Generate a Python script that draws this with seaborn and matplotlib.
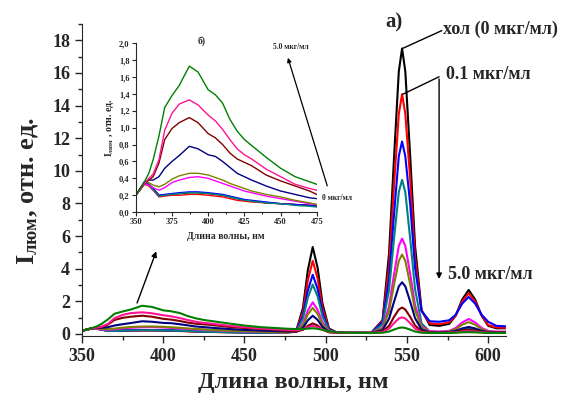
import numpy as np
import pandas as pd
import matplotlib
matplotlib.use("Agg")
import matplotlib.pyplot as plt
import seaborn as sns

# wavelength grid (nm): inset region + peak region
wavelength = [350, 353, 356, 359, 362, 366, 370, 375, 380, 387, 393, 400, 405, 410, 415,
              420, 425, 430, 440, 450, 460, 470, 475,
              482, 486, 489, 492, 495, 498, 502, 507, 515, 528, 535, 539, 542, 545, 547,
              549, 552, 555, 559, 564, 570, 576, 580, 584, 588, 592, 596, 600, 605, 611]

# intensities, from control (0 mkg/ml) up to 5.0 mkg/ml
s_black = [0.20, 0.27, 0.34, 0.33, 0.28, 0.20, 0.20, 0.21, 0.22, 0.23, 0.23, 0.22, 0.21, 0.20, 0.18,
           0.16, 0.14, 0.13, 0.11, 0.10, 0.09, 0.08, 0.07,
           0.24, 1.60, 3.91, 5.33, 4.07, 1.87, 0.34, 0.08, 0.07, 0.07, 0.85, 4.94, 10.7, 16.1, 17.5,
           16.1, 10.9, 5.40, 1.47, 0.55, 0.50, 0.62, 1.12, 2.11, 2.70, 2.11, 1.12, 0.50, 0.35, 0.35]
s_red = [0.20, 0.26, 0.33, 0.31, 0.26, 0.18, 0.19, 0.20, 0.20, 0.21, 0.21, 0.20, 0.19, 0.18, 0.16,
         0.14, 0.13, 0.12, 0.11, 0.10, 0.09, 0.08, 0.08,
         0.21, 1.36, 3.29, 4.48, 3.42, 1.58, 0.30, 0.08, 0.07, 0.07, 0.80, 4.16, 8.98, 13.5, 14.7,
         13.5, 9.50, 4.70, 1.42, 0.65, 0.60, 0.71, 1.13, 1.99, 2.50, 1.99, 1.13, 0.55, 0.40, 0.38]
s_blue = [0.20, 0.27, 0.34, 0.33, 0.28, 0.20, 0.21, 0.22, 0.23, 0.24, 0.24, 0.23, 0.22, 0.21, 0.19,
          0.17, 0.15, 0.14, 0.12, 0.10, 0.09, 0.08, 0.07,
          0.19, 1.11, 2.67, 3.63, 2.78, 1.29, 0.26, 0.08, 0.07, 0.07, 0.73, 3.37, 7.27, 10.9, 11.8,
          10.9, 7.95, 4.05, 1.41, 0.78, 0.75, 0.84, 1.18, 1.86, 2.27, 1.86, 1.18, 0.75, 0.50, 0.47]
s_teal = [0.20, 0.27, 0.34, 0.32, 0.27, 0.19, 0.20, 0.21, 0.22, 0.23, 0.23, 0.22, 0.21, 0.20, 0.18,
          0.16, 0.14, 0.13, 0.11, 0.10, 0.08, 0.07, 0.06,
          0.17, 0.94, 2.23, 3.03, 2.32, 1.08, 0.23, 0.08, 0.07, 0.07, 0.59, 2.70, 5.80, 8.70, 9.45,
          8.70, 5.85, 2.75, 0.65, 0.15, 0.12, 0.13, 0.17, 0.27, 0.32, 0.27, 0.17, 0.12, 0.10, 0.10]
s_magenta = [0.20, 0.27, 0.34, 0.32, 0.29, 0.26, 0.29, 0.35, 0.38, 0.41, 0.42, 0.40, 0.37, 0.34, 0.31,
             0.28, 0.25, 0.23, 0.19, 0.16, 0.13, 0.10, 0.09,
             0.14, 0.62, 1.44, 1.94, 1.49, 0.71, 0.17, 0.08, 0.07, 0.07, 0.39, 1.69, 3.61, 5.40, 5.85,
             5.40, 3.69, 1.77, 0.47, 0.17, 0.15, 0.19, 0.37, 0.71, 0.92, 0.71, 0.37, 0.19, 0.15, 0.15]
s_olive = [0.20, 0.28, 0.36, 0.35, 0.32, 0.30, 0.33, 0.39, 0.43, 0.46, 0.46, 0.44, 0.41, 0.38, 0.34,
           0.31, 0.28, 0.25, 0.21, 0.18, 0.14, 0.11, 0.09,
           0.13, 0.53, 1.20, 1.60, 1.23, 0.59, 0.16, 0.08, 0.07, 0.07, 0.34, 1.41, 2.99, 4.48, 4.87,
           4.48, 3.05, 1.46, 0.39, 0.13, 0.12, 0.15, 0.29, 0.57, 0.73, 0.57, 0.29, 0.15, 0.12, 0.12]
s_navy = [0.20, 0.28, 0.36, 0.38, 0.38, 0.42, 0.52, 0.60, 0.67, 0.78, 0.75, 0.68, 0.66, 0.60, 0.53,
          0.46, 0.42, 0.38, 0.31, 0.25, 0.21, 0.17, 0.16,
          0.14, 0.38, 0.84, 1.12, 0.87, 0.43, 0.13, 0.08, 0.07, 0.07, 0.24, 0.94, 1.96, 2.92, 3.17,
          2.92, 1.99, 0.97, 0.27, 0.10, 0.10, 0.12, 0.19, 0.34, 0.43, 0.34, 0.19, 0.12, 0.10, 0.10]
s_maroon = [0.20, 0.27, 0.34, 0.38, 0.42, 0.58, 0.86, 0.99, 1.06, 1.12, 1.06, 0.93, 0.88, 0.80, 0.70,
            0.63, 0.59, 0.55, 0.44, 0.37, 0.31, 0.25, 0.21,
            0.16, 0.25, 0.50, 0.65, 0.52, 0.27, 0.10, 0.08, 0.07, 0.07, 0.16, 0.50, 1.04, 1.50, 1.62,
            1.50, 1.05, 0.52, 0.16, 0.08, 0.08, 0.09, 0.13, 0.21, 0.26, 0.21, 0.13, 0.09, 0.08, 0.08]
s_pink = [0.20, 0.27, 0.34, 0.40, 0.45, 0.62, 0.97, 1.17, 1.28, 1.33, 1.27, 1.15, 1.08, 0.98, 0.86,
          0.75, 0.68, 0.63, 0.51, 0.42, 0.33, 0.28, 0.26,
          0.22, 0.30, 0.41, 0.50, 0.42, 0.27, 0.13, 0.08, 0.07, 0.07, 0.12, 0.33, 0.66, 0.95, 1.02,
          0.95, 0.66, 0.33, 0.12, 0.07, 0.07, 0.08, 0.10, 0.15, 0.17, 0.15, 0.10, 0.08, 0.07, 0.07]
s_green = [0.20, 0.27, 0.36, 0.46, 0.62, 0.90, 1.24, 1.38, 1.50, 1.73, 1.66, 1.45, 1.39, 1.29, 1.10,
           0.96, 0.86, 0.79, 0.65, 0.52, 0.42, 0.36, 0.33,
           0.30, 0.31, 0.33, 0.35, 0.32, 0.25, 0.17, 0.10, 0.07, 0.06, 0.08, 0.15, 0.27, 0.37, 0.40,
           0.37, 0.27, 0.15, 0.08, 0.06, 0.06, 0.06, 0.08, 0.10, 0.11, 0.10, 0.08, 0.06, 0.06, 0.06]

series = {"black": s_black, "red": s_red, "blue": s_blue, "teal": s_teal,
          "magenta": s_magenta, "olive": s_olive, "navy": s_navy,
          "maroon": s_maroon, "deeppink": s_pink, "green": s_green}
palette = {"black": "#000000", "red": "#ff0000", "blue": "#0000ff", "teal": "#008080",
           "magenta": "#ff00ff", "olive": "#808000", "navy": "#000080",
           "maroon": "#800000", "deeppink": "#ff1493", "green": "#008000"}

df = pd.concat([pd.DataFrame({"wl": wavelength, "I": v, "s": k}) for k, v in series.items()])

sns.set_style("ticks")
plt.rcParams["font.family"] = ["Liberation Serif", "DejaVu Serif"]
plt.rcParams["font.weight"] = "bold"
plt.rcParams["mathtext.fontset"] = "custom"
plt.rcParams["mathtext.rm"] = "Liberation Serif:bold"
plt.rcParams["mathtext.it"] = "Liberation Serif:bold"
plt.rcParams["mathtext.bf"] = "Liberation Serif:bold"

fig = plt.figure(figsize=(5.68, 4.01), dpi=100)
ax = fig.add_axes([0.1444, 0.161, 0.7465, 0.779])
sns.lineplot(data=df, x="wl", y="I", hue="s", palette=palette, estimator=None,
             sort=False, legend=False, lw=1.5, ax=ax)
ax.set_xlim(350, 611)
ax.set_ylim(-0.15, 19)
ax.set_xticks(range(350, 601, 50))
ax.set_xticks(range(350, 611, 25), minor=True)
ax.set_yticks(range(0, 19, 2))
ax.set_yticks(range(0, 20, 1), minor=True)
ax.tick_params(labelsize=13, length=5, width=1)
ax.tick_params(which="minor", length=3, width=1)
for lab in ax.get_xticklabels() + ax.get_yticklabels():
    lab.set_fontweight("bold")
ax.set_xlabel("Длина волны, нм", fontsize=17.5, fontweight="bold")
ax.xaxis.set_label_coords(0.498, -0.115)
ax.set_ylabel(r"I$_{\mathrm{люм}}$, отн. ед.", fontsize=19, fontweight="bold")
ax.yaxis.set_label_coords(-0.098, 0.466)
sns.despine(ax=ax)

# annotations on main plot
ax.text(537, 19.1, "а)", fontsize=15, fontweight="bold", va="center", clip_on=False)
ax.text(572.2, 18.66, "хол (0 мкг/мл)", fontsize=13, fontweight="bold", va="center", clip_on=False)
ax.plot([547.2, 571.5], [17.5, 18.6], color="k", lw=1, clip_on=False)
ax.text(574.1, 15.9, "0.1 мкг/мл", fontsize=13, fontweight="bold", va="center")
ax.plot([547.5, 569.8], [14.7, 15.77], color="k", lw=1)
ax.annotate("", xy=(569.8, 3.2), xytext=(569.8, 15.8),
            arrowprops=dict(arrowstyle="-|>", color="k", lw=1, mutation_scale=8))
ax.text(575.3, 3.64, "5.0 мкг/мл", fontsize=13, fontweight="bold", va="center")
ax.annotate("", xy=(396.3, 5.23), xytext=(383.3, 1.74),
            arrowprops=dict(arrowstyle="-|>", color="k", lw=1, mutation_scale=8))

# inset
ins = fig.add_axes([0.239, 0.471, 0.3187, 0.421])
ins.set_facecolor("none")
sns.lineplot(data=df, x="wl", y="I", hue="s", palette=palette, estimator=None,
             sort=False, legend=False, lw=1.0, ax=ins)
ins.set_xlim(350, 475)
ins.set_ylim(0, 2.0)
ins.set_xticks(range(350, 476, 25))
ins.set_xticks(np.arange(350, 476, 12.5), minor=True)
ins.set_yticks(np.arange(0, 2.01, 0.2))
ins.set_yticklabels([f"{v:.1f}".replace(".", ",") for v in np.arange(0, 2.01, 0.2)])
ins.tick_params(labelsize=6, length=3, width=0.8, pad=1.5)
ins.tick_params(which="minor", length=1.5, width=0.8)
for lab in ins.get_xticklabels() + ins.get_yticklabels():
    lab.set_fontweight("bold")
ins.set_xlabel("Длина волны, нм", fontsize=7, fontweight="bold", labelpad=4)
ins.set_ylabel(r"I$_{\mathrm{люм}}$ , отн. ед.", fontsize=7, fontweight="bold", labelpad=2)
sns.despine(ax=ins)
ins.text(395.8, 2.02, "б)", fontsize=7, fontweight="bold", ha="center", va="center", clip_on=False)
ins.text(444.8, 1.96, "5.0 мкг/мл", fontsize=5.5, fontweight="bold", va="center", clip_on=False)
ins.text(478.6, 0.17, "0 мкг/мл", fontsize=5.5, fontweight="bold", va="center", clip_on=False)
ins.annotate("", xy=(454.5, 1.86), xytext=(482.8, 0.28), annotation_clip=False,
             arrowprops=dict(arrowstyle="-|>", color="k", lw=0.9, mutation_scale=6))

fig.savefig("out.png", dpi=100)
